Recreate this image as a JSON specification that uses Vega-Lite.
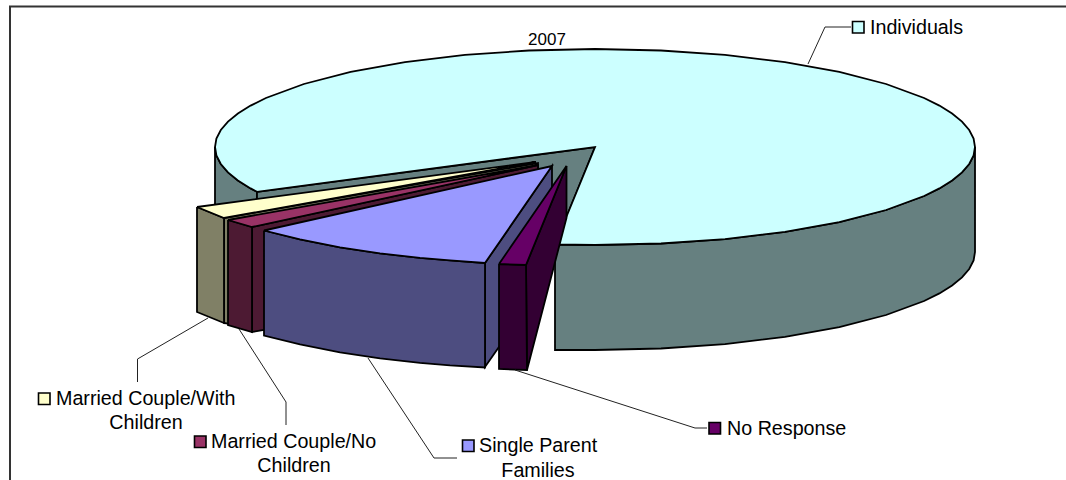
{"$schema":"https://vega.github.io/schema/vega-lite/v6.json","width":1066,"height":480,"padding":0,"autosize":"none","background":"white","view":{"stroke":null},
"datasets":{
"shapes":[
{"p":"a1","c":"Individuals wall","i":1,"x":215,"y":147},{"p":"a1","c":"Individuals wall","i":2,"x":216.4,"y":155.5},{"p":"a1","c":"Individuals wall","i":3,"x":220.8,"y":164},{"p":"a1","c":"Individuals wall","i":4,"x":228,"y":172.4},{"p":"a1","c":"Individuals wall","i":5,"x":237.9,"y":180.5},{"p":"a1","c":"Individuals wall","i":6,"x":250.6,"y":188.4},{"p":"a1","c":"Individuals wall","i":7,"x":257,"y":191.8},{"p":"a1","c":"Individuals wall","i":8,"x":257,"y":225},{"p":"a1","c":"Individuals wall","i":9,"x":215,"y":225},{"p":"a1","c":"Individuals wall","i":10,"x":215,"y":147},
{"p":"a2","c":"Individuals wall","i":1,"x":257,"y":191.8},{"p":"a2","c":"Individuals wall","i":2,"x":595,"y":147},{"p":"a2","c":"Individuals wall","i":3,"x":555,"y":245},{"p":"a2","c":"Individuals wall","i":4,"x":540,"y":270},{"p":"a2","c":"Individuals wall","i":5,"x":257,"y":225},{"p":"a2","c":"Individuals wall","i":6,"x":257,"y":191.8},
{"p":"a3","c":"Individuals wall","i":1,"x":975,"y":147},{"p":"a3","c":"Individuals wall","i":2,"x":973.6,"y":155.5},{"p":"a3","c":"Individuals wall","i":3,"x":969.2,"y":164},{"p":"a3","c":"Individuals wall","i":4,"x":962,"y":172.4},{"p":"a3","c":"Individuals wall","i":5,"x":952.1,"y":180.5},{"p":"a3","c":"Individuals wall","i":6,"x":939.4,"y":188.4},{"p":"a3","c":"Individuals wall","i":7,"x":924.1,"y":196},{"p":"a3","c":"Individuals wall","i":8,"x":886.1,"y":210},{"p":"a3","c":"Individuals wall","i":9,"x":839.3,"y":222.1},{"p":"a3","c":"Individuals wall","i":10,"x":785,"y":231.9},{"p":"a3","c":"Individuals wall","i":11,"x":725,"y":239.1},{"p":"a3","c":"Individuals wall","i":12,"x":661,"y":243.5},{"p":"a3","c":"Individuals wall","i":13,"x":595,"y":245},{"p":"a3","c":"Individuals wall","i":14,"x":555,"y":244.5},{"p":"a3","c":"Individuals wall","i":15,"x":555,"y":350},{"p":"a3","c":"Individuals wall","i":16,"x":595,"y":350},{"p":"a3","c":"Individuals wall","i":17,"x":661,"y":348.5},{"p":"a3","c":"Individuals wall","i":18,"x":725,"y":344.1},{"p":"a3","c":"Individuals wall","i":19,"x":785,"y":336.9},{"p":"a3","c":"Individuals wall","i":20,"x":839.3,"y":327.1},{"p":"a3","c":"Individuals wall","i":21,"x":886.1,"y":315},{"p":"a3","c":"Individuals wall","i":22,"x":924.1,"y":301},{"p":"a3","c":"Individuals wall","i":23,"x":939.4,"y":293.4},{"p":"a3","c":"Individuals wall","i":24,"x":952.1,"y":285.5},{"p":"a3","c":"Individuals wall","i":25,"x":962,"y":277.4},{"p":"a3","c":"Individuals wall","i":26,"x":969.2,"y":269},{"p":"a3","c":"Individuals wall","i":27,"x":973.6,"y":260.5},{"p":"a3","c":"Individuals wall","i":28,"x":975,"y":252},{"p":"a3","c":"Individuals wall","i":29,"x":975,"y":147},
{"p":"a4","c":"Individuals top","i":1,"x":257,"y":191.8},{"p":"a4","c":"Individuals top","i":2,"x":250.6,"y":188.4},{"p":"a4","c":"Individuals top","i":3,"x":237.9,"y":180.5},{"p":"a4","c":"Individuals top","i":4,"x":228,"y":172.4},{"p":"a4","c":"Individuals top","i":5,"x":220.8,"y":164},{"p":"a4","c":"Individuals top","i":6,"x":216.4,"y":155.5},{"p":"a4","c":"Individuals top","i":7,"x":215,"y":147},{"p":"a4","c":"Individuals top","i":8,"x":216.4,"y":138.5},{"p":"a4","c":"Individuals top","i":9,"x":220.8,"y":130},{"p":"a4","c":"Individuals top","i":10,"x":228,"y":121.6},{"p":"a4","c":"Individuals top","i":11,"x":237.9,"y":113.5},{"p":"a4","c":"Individuals top","i":12,"x":250.6,"y":105.6},{"p":"a4","c":"Individuals top","i":13,"x":265.9,"y":98},{"p":"a4","c":"Individuals top","i":14,"x":303.9,"y":84},{"p":"a4","c":"Individuals top","i":15,"x":350.7,"y":71.9},{"p":"a4","c":"Individuals top","i":16,"x":405,"y":62.1},{"p":"a4","c":"Individuals top","i":17,"x":465,"y":54.9},{"p":"a4","c":"Individuals top","i":18,"x":529,"y":50.5},{"p":"a4","c":"Individuals top","i":19,"x":595,"y":49},{"p":"a4","c":"Individuals top","i":20,"x":661,"y":50.5},{"p":"a4","c":"Individuals top","i":21,"x":725,"y":54.9},{"p":"a4","c":"Individuals top","i":22,"x":785,"y":62.1},{"p":"a4","c":"Individuals top","i":23,"x":839.3,"y":71.9},{"p":"a4","c":"Individuals top","i":24,"x":886.1,"y":84},{"p":"a4","c":"Individuals top","i":25,"x":924.1,"y":98},{"p":"a4","c":"Individuals top","i":26,"x":939.4,"y":105.6},{"p":"a4","c":"Individuals top","i":27,"x":952.1,"y":113.5},{"p":"a4","c":"Individuals top","i":28,"x":962,"y":121.6},{"p":"a4","c":"Individuals top","i":29,"x":969.2,"y":130},{"p":"a4","c":"Individuals top","i":30,"x":973.6,"y":138.5},{"p":"a4","c":"Individuals top","i":31,"x":975,"y":147},{"p":"a4","c":"Individuals top","i":32,"x":973.6,"y":155.5},{"p":"a4","c":"Individuals top","i":33,"x":969.2,"y":164},{"p":"a4","c":"Individuals top","i":34,"x":962,"y":172.4},{"p":"a4","c":"Individuals top","i":35,"x":952.1,"y":180.5},{"p":"a4","c":"Individuals top","i":36,"x":939.4,"y":188.4},{"p":"a4","c":"Individuals top","i":37,"x":924.1,"y":196},{"p":"a4","c":"Individuals top","i":38,"x":886.1,"y":210},{"p":"a4","c":"Individuals top","i":39,"x":839.3,"y":222.1},{"p":"a4","c":"Individuals top","i":40,"x":785,"y":231.9},{"p":"a4","c":"Individuals top","i":41,"x":725,"y":239.1},{"p":"a4","c":"Individuals top","i":42,"x":661,"y":243.5},{"p":"a4","c":"Individuals top","i":43,"x":595,"y":245},{"p":"a4","c":"Individuals top","i":44,"x":555,"y":244.5},{"p":"a4","c":"Individuals top","i":45,"x":595,"y":147},{"p":"a4","c":"Individuals top","i":46,"x":257,"y":191.8},
{"p":"b1","c":"Married Couple/With Children wall","i":1,"x":224,"y":218},{"p":"b1","c":"Married Couple/With Children wall","i":2,"x":538,"y":163},{"p":"b1","c":"Married Couple/With Children wall","i":3,"x":538,"y":170},{"p":"b1","c":"Married Couple/With Children wall","i":4,"x":264,"y":330},{"p":"b1","c":"Married Couple/With Children wall","i":5,"x":224,"y":323},{"p":"b1","c":"Married Couple/With Children wall","i":6,"x":224,"y":218},
{"p":"b2","c":"Married Couple/With Children wall","i":1,"x":197,"y":207},{"p":"b2","c":"Married Couple/With Children wall","i":2,"x":224,"y":218},{"p":"b2","c":"Married Couple/With Children wall","i":3,"x":224,"y":323},{"p":"b2","c":"Married Couple/With Children wall","i":4,"x":197,"y":312},{"p":"b2","c":"Married Couple/With Children wall","i":5,"x":197,"y":207},
{"p":"b3","c":"Married Couple/With Children top","i":1,"x":197,"y":207},{"p":"b3","c":"Married Couple/With Children top","i":2,"x":536,"y":162},{"p":"b3","c":"Married Couple/With Children top","i":3,"x":224,"y":218},{"p":"b3","c":"Married Couple/With Children top","i":4,"x":197,"y":207},
{"p":"c1","c":"Married Couple/No Children wall","i":1,"x":252,"y":227},{"p":"c1","c":"Married Couple/No Children wall","i":2,"x":538,"y":165},{"p":"c1","c":"Married Couple/No Children wall","i":3,"x":538,"y":171},{"p":"c1","c":"Married Couple/No Children wall","i":4,"x":264,"y":330},{"p":"c1","c":"Married Couple/No Children wall","i":5,"x":252,"y":332},{"p":"c1","c":"Married Couple/No Children wall","i":6,"x":252,"y":227},
{"p":"c2","c":"Married Couple/No Children wall","i":1,"x":228,"y":220},{"p":"c2","c":"Married Couple/No Children wall","i":2,"x":252,"y":227},{"p":"c2","c":"Married Couple/No Children wall","i":3,"x":252,"y":332},{"p":"c2","c":"Married Couple/No Children wall","i":4,"x":228,"y":325},{"p":"c2","c":"Married Couple/No Children wall","i":5,"x":228,"y":220},
{"p":"c3","c":"Married Couple/No Children top","i":1,"x":228,"y":220},{"p":"c3","c":"Married Couple/No Children top","i":2,"x":538,"y":165},{"p":"c3","c":"Married Couple/No Children top","i":3,"x":252,"y":227},{"p":"c3","c":"Married Couple/No Children top","i":4,"x":228,"y":220},
{"p":"d1","c":"Single Parent Families wall","i":1,"x":485,"y":263},{"p":"d1","c":"Single Parent Families wall","i":2,"x":552,"y":166},{"p":"d1","c":"Single Parent Families wall","i":3,"x":552,"y":271},{"p":"d1","c":"Single Parent Families wall","i":4,"x":485,"y":367},{"p":"d1","c":"Single Parent Families wall","i":5,"x":485,"y":263},
{"p":"d2","c":"Single Parent Families wall","i":1,"x":264,"y":230.5},{"p":"d2","c":"Single Parent Families wall","i":2,"x":300,"y":239.3},{"p":"d2","c":"Single Parent Families wall","i":3,"x":340,"y":247.3},{"p":"d2","c":"Single Parent Families wall","i":4,"x":380,"y":253.4},{"p":"d2","c":"Single Parent Families wall","i":5,"x":420,"y":257.9},{"p":"d2","c":"Single Parent Families wall","i":6,"x":450,"y":260.4},{"p":"d2","c":"Single Parent Families wall","i":7,"x":485,"y":263},{"p":"d2","c":"Single Parent Families wall","i":8,"x":485,"y":367.5},{"p":"d2","c":"Single Parent Families wall","i":9,"x":450,"y":365.4},{"p":"d2","c":"Single Parent Families wall","i":10,"x":420,"y":362.9},{"p":"d2","c":"Single Parent Families wall","i":11,"x":380,"y":358.4},{"p":"d2","c":"Single Parent Families wall","i":12,"x":340,"y":352.3},{"p":"d2","c":"Single Parent Families wall","i":13,"x":300,"y":344.3},{"p":"d2","c":"Single Parent Families wall","i":14,"x":264,"y":335.5},{"p":"d2","c":"Single Parent Families wall","i":15,"x":264,"y":230.5},
{"p":"d3","c":"Single Parent Families top","i":1,"x":264,"y":230.5},{"p":"d3","c":"Single Parent Families top","i":2,"x":300,"y":239.3},{"p":"d3","c":"Single Parent Families top","i":3,"x":340,"y":247.3},{"p":"d3","c":"Single Parent Families top","i":4,"x":380,"y":253.4},{"p":"d3","c":"Single Parent Families top","i":5,"x":420,"y":257.9},{"p":"d3","c":"Single Parent Families top","i":6,"x":450,"y":260.4},{"p":"d3","c":"Single Parent Families top","i":7,"x":485,"y":263},{"p":"d3","c":"Single Parent Families top","i":8,"x":552,"y":166},{"p":"d3","c":"Single Parent Families top","i":9,"x":264,"y":230.5},
{"p":"e1","c":"No Response wall","i":1,"x":526,"y":265},{"p":"e1","c":"No Response wall","i":2,"x":566.5,"y":166},{"p":"e1","c":"No Response wall","i":3,"x":566.5,"y":218},{"p":"e1","c":"No Response wall","i":4,"x":527,"y":370},{"p":"e1","c":"No Response wall","i":5,"x":526,"y":265},
{"p":"e2","c":"No Response wall","i":1,"x":499,"y":264},{"p":"e2","c":"No Response wall","i":2,"x":526,"y":265},{"p":"e2","c":"No Response wall","i":3,"x":527,"y":370},{"p":"e2","c":"No Response wall","i":4,"x":499,"y":369},{"p":"e2","c":"No Response wall","i":5,"x":499,"y":264},
{"p":"e3","c":"No Response top","i":1,"x":499,"y":264},{"p":"e3","c":"No Response top","i":2,"x":566.5,"y":166},{"p":"e3","c":"No Response top","i":3,"x":526,"y":265},{"p":"e3","c":"No Response top","i":4,"x":499,"y":264}
],
"leaders":[
{"s":"Individuals","i":1,"x":808,"y":64},{"s":"Individuals","i":2,"x":825,"y":27},{"s":"Individuals","i":3,"x":851,"y":27},
{"s":"With","i":1,"x":208,"y":318},{"s":"With","i":2,"x":137.5,"y":359},{"s":"With","i":3,"x":137.5,"y":382},
{"s":"No","i":1,"x":239,"y":329},{"s":"No","i":2,"x":286,"y":402},{"s":"No","i":3,"x":286,"y":425},
{"s":"Single","i":1,"x":368,"y":358},{"s":"Single","i":2,"x":434,"y":458},{"s":"Single","i":3,"x":457,"y":458},
{"s":"Response","i":1,"x":515,"y":370},{"s":"Response","i":2,"x":695,"y":428},{"s":"Response","i":3,"x":707,"y":428}
],
"frame":[{"i":1,"x":10,"y":480},{"i":2,"x":10,"y":6.5},{"i":3,"x":1066,"y":6.5}],
"swatches":[
{"c":"Individuals top","x":852.5,"x2":864,"y":21.5,"y2":33},
{"c":"Married Couple/With Children top","x":38.5,"x2":50,"y":393,"y2":404.5},
{"c":"Married Couple/No Children top","x":194.5,"x2":206,"y":436,"y2":447.5},
{"c":"Single Parent Families top","x":462.5,"x2":474,"y":440,"y2":451.5},
{"c":"No Response top","x":709,"x2":720.5,"y":422.5,"y2":434}
],
"labels":[
{"t":"Individuals","x":870,"y":28,"a":"l"},
{"t":"Married Couple/With","x":56,"y":399,"a":"l"},
{"t":"Children","x":146,"y":423,"a":"c"},
{"t":"Married Couple/No","x":211,"y":442,"a":"l"},
{"t":"Children","x":294,"y":466,"a":"c"},
{"t":"Single Parent","x":479,"y":446,"a":"l"},
{"t":"Families","x":538,"y":471,"a":"c"},
{"t":"No Response","x":727,"y":429,"a":"l"}
],
"title":[{"t":"2007","x":547,"y":39.5}]
},
"layer":[
{"data":{"name":"frame"},"mark":{"type":"line","stroke":"#333333","strokeWidth":2},"encoding":{"x":{"field":"x","type":"quantitative","scale":{"domain":[0,1066]},"axis":null},"y":{"field":"y","type":"quantitative","scale":{"domain":[480,0]},"axis":null},"order":{"field":"i"}}},
{"data":{"name":"shapes"},"mark":{"type":"line","filled":true,"stroke":"#000000","strokeWidth":1.8,"strokeJoin":"miter"},"encoding":{"x":{"field":"x","type":"quantitative","scale":{"domain":[0,1066]},"axis":null},"y":{"field":"y","type":"quantitative","scale":{"domain":[480,0]},"axis":null},"detail":{"field":"p"},"order":{"field":"i"},"color":{"field":"c","type":"nominal","legend":null,"scale":{"domain":["Individuals top","Individuals wall","Married Couple/With Children top","Married Couple/With Children wall","Married Couple/No Children top","Married Couple/No Children wall","Single Parent Families top","Single Parent Families wall","No Response top","No Response wall"],"range":["#CCFFFF","#668080","#FFFFCC","#808066","#993366","#4D1A33","#9999FF","#4D4D80","#660066","#330033"]}}}},
{"data":{"name":"leaders"},"mark":{"type":"line","stroke":"#222222","strokeWidth":1},"encoding":{"x":{"field":"x","type":"quantitative","scale":{"domain":[0,1066]},"axis":null},"y":{"field":"y","type":"quantitative","scale":{"domain":[480,0]},"axis":null},"detail":{"field":"s"},"order":{"field":"i"}}},
{"data":{"name":"swatches"},"mark":{"type":"rect","stroke":"#000000","strokeWidth":1.6},"encoding":{"x":{"field":"x","type":"quantitative","scale":{"domain":[0,1066]},"axis":null},"x2":{"field":"x2"},"y":{"field":"y","type":"quantitative","scale":{"domain":[480,0]},"axis":null},"y2":{"field":"y2"},"fill":{"field":"c","type":"nominal","legend":null,"scale":{"domain":["Individuals top","Married Couple/With Children top","Married Couple/No Children top","Single Parent Families top","No Response top"],"range":["#CCFFFF","#FFFFCC","#993366","#9999FF","#660066"]}}}},
{"data":{"name":"labels"},"transform":[{"filter":"datum.a=='l'"}],"mark":{"type":"text","font":"Liberation Sans","fontSize":19.7,"align":"left","baseline":"middle","color":"#000000"},"encoding":{"x":{"field":"x","type":"quantitative","scale":{"domain":[0,1066]},"axis":null},"y":{"field":"y","type":"quantitative","scale":{"domain":[480,0]},"axis":null},"text":{"field":"t"}}},
{"data":{"name":"labels"},"transform":[{"filter":"datum.a=='c'"}],"mark":{"type":"text","font":"Liberation Sans","fontSize":19.7,"align":"center","baseline":"middle","color":"#000000"},"encoding":{"x":{"field":"x","type":"quantitative","scale":{"domain":[0,1066]},"axis":null},"y":{"field":"y","type":"quantitative","scale":{"domain":[480,0]},"axis":null},"text":{"field":"t"}}},
{"data":{"name":"title"},"mark":{"type":"text","font":"Liberation Sans","fontSize":17,"align":"center","baseline":"middle","color":"#000000"},"encoding":{"x":{"field":"x","type":"quantitative","scale":{"domain":[0,1066]},"axis":null},"y":{"field":"y","type":"quantitative","scale":{"domain":[480,0]},"axis":null},"text":{"field":"t"}}}
]}
